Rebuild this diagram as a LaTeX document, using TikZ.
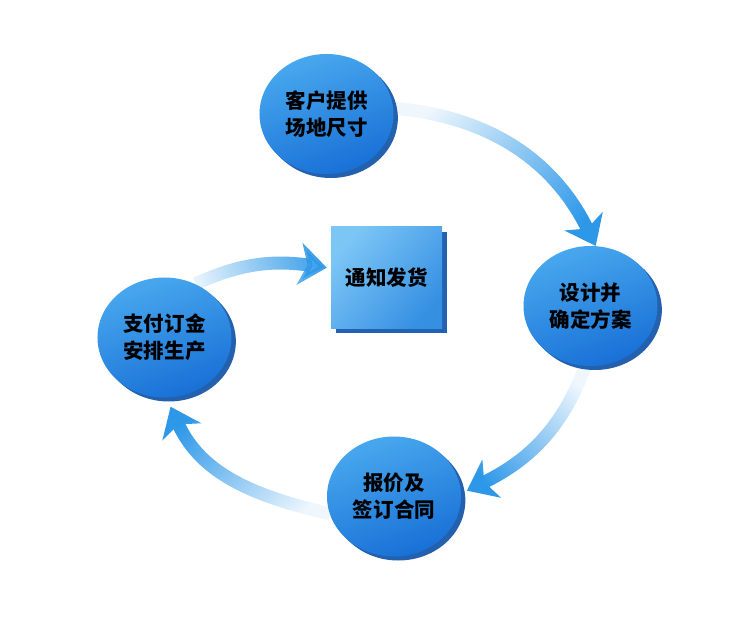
\documentclass[tikz,border=0pt]{standalone}
\usepackage{fontspec}
\newfontfamily\cjk{Noto Sans CJK SC}
\usetikzlibrary{calc,shapes,shadows,fadings,arrows.meta,backgrounds}

\definecolor{balltop}{HTML}{48A8EE}
\definecolor{ballbot}{HTML}{1870D6}
\definecolor{ballrim}{HTML}{2360AE}
\definecolor{arrowblue}{HTML}{2E98E8}
\definecolor{boxtop}{HTML}{7CC6F6}
\definecolor{boxbot}{HTML}{3690E2}
\definecolor{boxrim}{HTML}{2362B2}

\tikzfading[name=tailfade, left color=transparent!92, middle color=transparent!25, right color=transparent!0]

\tikzset{
 ball/.style={ellipse, minimum width=4.02cm, minimum height=3.6cm, inner sep=0pt,
   top color=balltop, bottom color=ballbot, shading angle=20,
   drop shadow={shadow xshift=0.13cm, shadow yshift=-0.12cm, fill=ballrim, opacity=1},
   font=\cjk\bfseries\fontsize{17.5}{23}\selectfont, align=center},
 card/.style={rectangle, minimum width=3.33cm, minimum height=3.03cm, inner sep=0pt,
   top color=boxtop, bottom color=boxbot, shading angle=50,
   drop shadow={shadow xshift=0.15cm, shadow yshift=-0.15cm, fill=boxrim, opacity=1},
   font=\cjk\bfseries\fontsize{17.5}{23}\selectfont},
 arr/.style={line width=0.39cm, draw=arrowblue, path fading=tailfade,
   -{Stealth[length=0.82cm, width=1.26cm, inset=0.24cm]}}
}

\begin{document}
\begin{tikzpicture}[x=0.03cm, y=-0.03cm]
 \useasboundingbox (0,0) rectangle (750,626);
 \node[ball] (kehu) at (326.5,114) {客户提供\\场地尺寸};
 \node[ball] (sheji) at (590.5,306) {设计并\\确定方案};
 \node[ball] (baojia) at (394,496.5) {报价及\\签订合同};
 \node[ball] (zhifu) at (164.5,337.5) {支付订金\\安排生产};
 \node[card] (fahuo) at (386.5,277.5) {通知发货};

 \begin{scope}[on background layer]
 \draw[arr, fading angle=-34] (kehu.5) to[out=-5, in=116] (sheji.85);
 \draw[arr, fading angle=-135] (sheji.265) to[out=250, in=26] ($(baojia.5)+(6,0)$);
 \draw[arr, fading angle=146] (baojia.195) to[out=167, in=-66] ($(zhifu.south)+(6,9)$);
 \draw[arr, fading angle=5] (zhifu.60) to[out=25, in=172] ($(fahuo.170)+(-4,0)$);
 \end{scope}
\end{tikzpicture}
\end{document}
